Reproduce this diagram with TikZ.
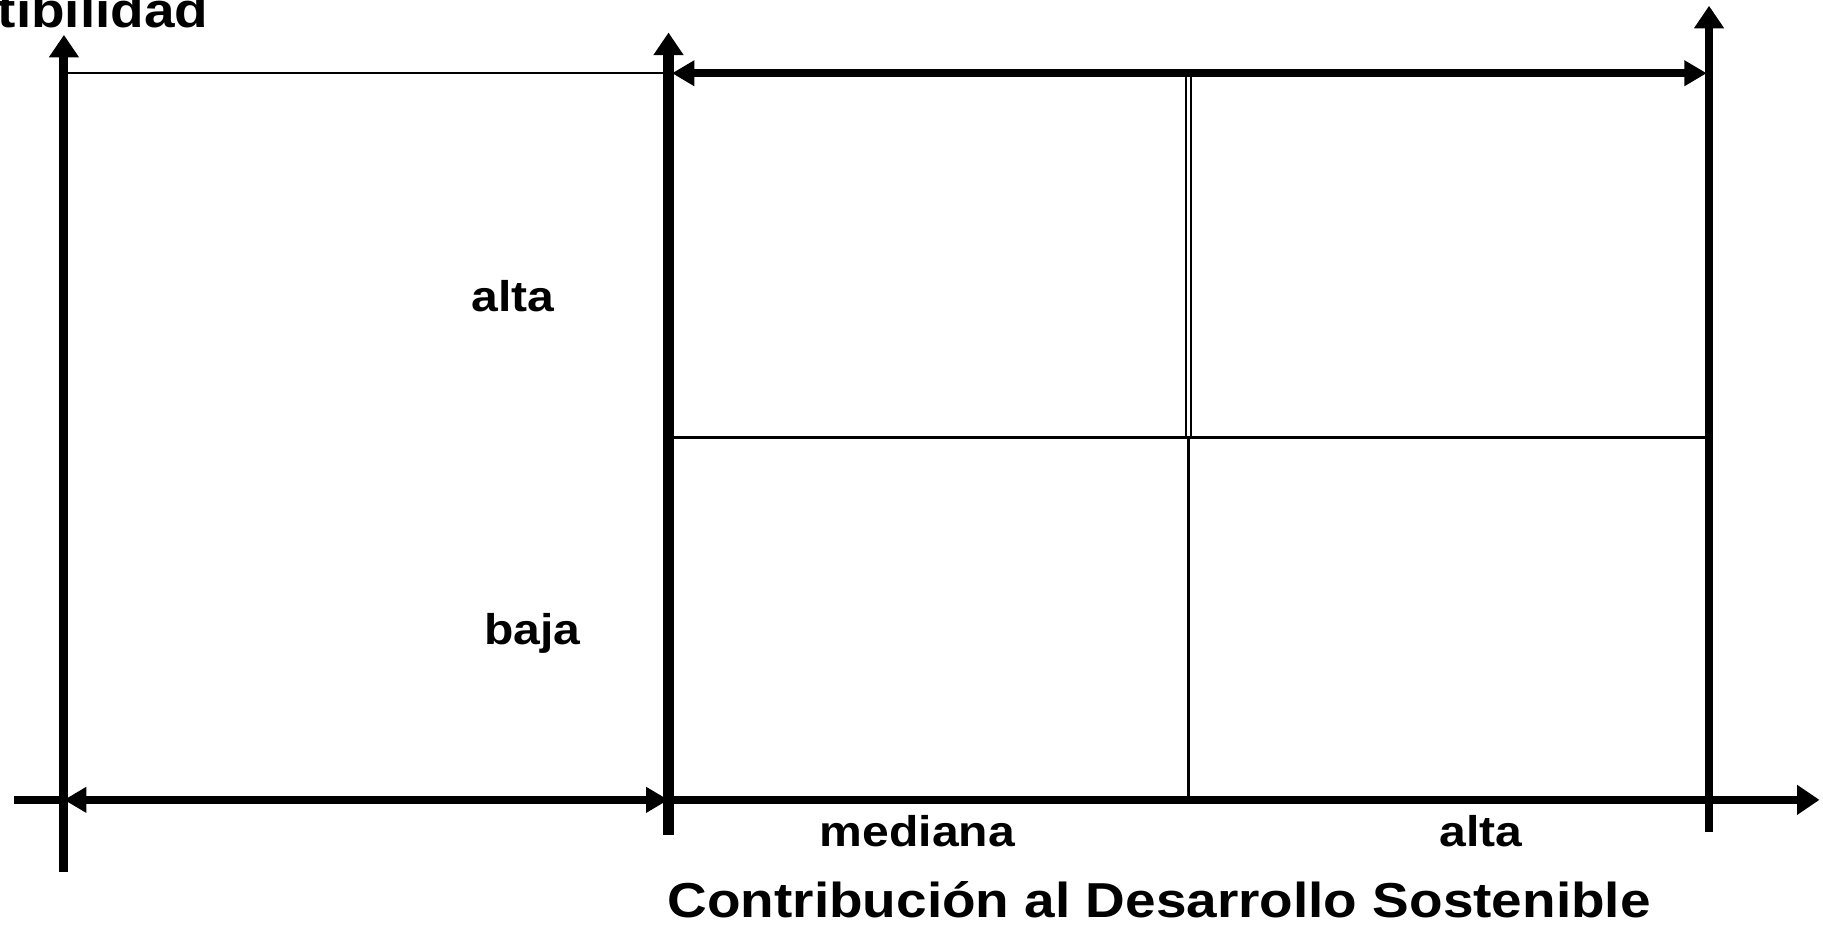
\documentclass[tikz,border=0pt]{standalone}
\usepackage{fontspec}
\setmainfont{Liberation Sans}
\usetikzlibrary{arrows.meta}
\newcommand\stretchtxt[1]{\scalebox{1.12}[1]{#1}}
\begin{document}
\begin{tikzpicture}[x=0.01cm,y=-0.01cm,
  tip/.style={-{Triangle[length=5.5pt,width=7pt]}},
  tips/.style={{Triangle[length=5.5pt,width=6pt]}-{Triangle[length=5.5pt,width=6pt]}},
  lbl/.style={font=\fontsize{10.5}{12}\selectfont\bfseries, inner sep=0pt, anchor=base},
  ttl/.style={font=\fontsize{12}{14}\selectfont\bfseries, inner sep=0pt, anchor=base}]
\useasboundingbox (0,0) rectangle (1568,798);
\clip (0,0) rectangle (1568,798);
% coordinates
\coordinate (L0) at (55,750);  \coordinate (L1) at (55,30);
\coordinate (M0) at (575,718); \coordinate (M1) at (575,28);
\coordinate (R0) at (1470,716); \coordinate (R1) at (1470,5);
\coordinate (B0) at (12,688); \coordinate (BL) at (55,688); \coordinate (BM) at (575,688); \coordinate (B1) at (1565,688);
\coordinate (TL) at (55,63); \coordinate (TM) at (575,63);
\coordinate (TA) at (578,63); \coordinate (TB) at (1468,63);
\coordinate (HA) at (578,376); \coordinate (HB) at (1468,376);
\coordinate (CT) at (1022,63); \coordinate (CM) at (1022,376); \coordinate (CB) at (1022,688);
% thin lines
\draw[line width=0.4pt] (TL) -- (TM);
\draw[line width=0.75pt] (HA) -- (HB);
\draw[line width=0.75pt] (CM) -- (CB);
\draw[line width=0.45pt] ([xshift=-0.6pt]CT) -- ([xshift=-0.6pt]CM);
\draw[line width=0.45pt] ([xshift=0.6pt]CT) -- ([xshift=0.6pt]CM);
% axes
\draw[line width=2.2pt, tip] (L0) -- (L1);
\draw[line width=2.6pt, tip] (M0) -- (M1);
\draw[line width=1.9pt, tip] (R0) -- (R1);
\draw[line width=2pt] (B0) -- (BL);
\draw[line width=2pt, tips] (BL) -- (BM);
\draw[line width=2pt, tip] (BM) -- (B1);
\draw[line width=2pt, tips] (TA) -- (TB);
% labels
\node[ttl, anchor=base east] (ylab) at (180,24) {\stretchtxt{tibilidad}};
\node[lbl] (alta1) at (441,268) {\stretchtxt{alta}};
\node[lbl] (baja) at (458,554) {\stretchtxt{baja}};
\node[lbl] (med) at (789,728) {\stretchtxt{mediana}};
\node[lbl] (alta2) at (1274,728) {\stretchtxt{alta}};
\node[ttl] (xlab) at (997,789) {\stretchtxt{Contribución al Desarrollo Sostenible}};
\end{tikzpicture}
\end{document}
